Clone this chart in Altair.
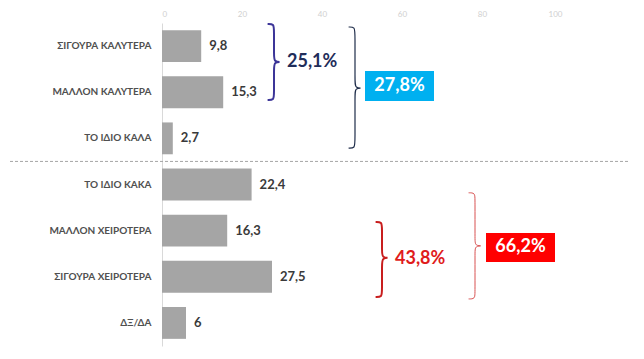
import altair as alt
import pandas as pd

categories = ["ΣΙΓΟΥΡΑ ΚΑΛΥΤΕΡΑ", "ΜΑΛΛΟΝ ΚΑΛΥΤΕΡΑ", "ΤΟ ΙΔΙΟ ΚΑΛΑ", "ΤΟ ΙΔΙΟ ΚΑΚΑ",
              "ΜΑΛΛΟΝ ΧΕΙΡΟΤΕΡΑ", "ΣΙΓΟΥΡΑ ΧΕΙΡΟΤΕΡΑ", "ΔΞ/ΔΑ"]
values = [9.8, 15.3, 2.7, 22.4, 16.3, 27.5, 6]
value_labels = ["9,8", "15,3", "2,7", "22,4", "16,3", "27,5", "6"]
x_ticks = [0, 20, 40, 60, 80, 100]

group_labels = ["25,1%", "43,8%"]
group_x = [31.25, 58.25]
group_y = [0.845, 5.115]
group_colors = ["#1F2D5A", "#E01B1B"]

box_labels = ["27,8%", "66,2%"]
box_x1 = [50.75, 81.0]
box_x2 = [68.0, 98.25]
box_y1 = [1.04, 4.55]
box_y2 = [1.69, 5.18]
box_colors = ["#00B0F0", "#FF0000"]

brace_x = [28.0, 48.25, 55.0, 78.25]
brace_top = [0.02, 0.087, 4.31, 3.68]
brace_bottom = [1.67, 2.71, 5.94, 5.98]
brace_tip = [0.845, 1.41, 5.09, 4.83]
brace_colors = ["#3C3598", "#1F2D4A", "#C81E1E", "#D85050"]
brace_widths = [2.0, 1.2, 2.0, 1.0]

separator_y = 3.0

FONT = "Lato"

df = pd.DataFrame({"category": categories, "value": values, "label": value_labels})

# brace outline points (decoration)
rows = []
for b in range(len(brace_x)):
    x0, t, bt, m = brace_x[b], brace_top[b], brace_bottom[b], brace_tip[b]
    w, r = 1.6, 0.14
    pts = [(x0 - w, t), (x0, t), (x0, t + r), (x0, m - r), (x0, m), (x0 + w * 1.3, m),
           (x0, m), (x0, m + r), (x0, bt - r), (x0, bt), (x0 - w, bt)]
    for i, (px, py) in enumerate(pts):
        rows.append({"brace": b, "i": i, "x": px, "y": py,
                     "color": brace_colors[b], "sw": brace_widths[b]})
brace_df = pd.DataFrame(rows)

group_df = pd.DataFrame({"x": group_x, "y": group_y, "text": group_labels, "color": group_colors})
box_df = pd.DataFrame({"x": box_x1, "x2": box_x2, "y": box_y1, "y2": box_y2,
                       "xc": [(a + b) / 2 for a, b in zip(box_x1, box_x2)],
                       "yc": [(a + b) / 2 for a, b in zip(box_y1, box_y2)],
                       "text": box_labels, "color": box_colors})
sep_df = pd.DataFrame({"y": [separator_y]})

xscale = alt.Scale(domain=[0, 100], nice=False)


def xenc(field):
    return alt.X(field, type="quantitative", scale=xscale, title=None)


yband = alt.Scale(paddingInner=0.31, paddingOuter=0.155)
yq = alt.Y("y:Q", scale=alt.Scale(domain=[0, 7], reverse=True, nice=False, zero=False), axis=None)

bars = alt.Chart(df).mark_bar(color="#A5A5A5").encode(
    x=alt.X("value:Q", scale=xscale, title=None,
            axis=alt.Axis(orient="top", values=x_ticks, labelColor="#D0D0D0", labelFontSize=8,
                          domain=False, ticks=False, grid=False, labelPadding=5, labelFont=FONT)),
    y=alt.Y("category:N", sort=categories, scale=yband, title=None,
            axis=alt.Axis(ticks=False, domainColor="#D9D9D9", labelFontWeight="bold",
                          labelColor="#505050", labelFont=FONT, labelFontSize=10, labelPadding=11)),
)

bar_text = alt.Chart(df).mark_text(align="left", dx=8, fontWeight="bold", fontSize=13,
                                   color="#3A3A3A", font=FONT).encode(
    x=xenc("value"),
    y=alt.Y("category:N", sort=categories, scale=yband, axis=None),
    text="label:N",
)

sep = alt.Chart(sep_df).mark_rule(color="#A6A6A6", strokeDash=[3, 2], strokeWidth=1).encode(
    x=alt.value(-152), x2=alt.value(466), y=yq,
)

braces = alt.Chart(brace_df).mark_line(interpolate="basis").encode(
    x=xenc("x"), y=yq, detail="brace:N", order="i:Q",
    color=alt.Color("color:N", scale=None),
    strokeWidth=alt.StrokeWidth("sw:Q", scale=None),
)

boxes = alt.Chart(box_df).mark_rect().encode(
    x=xenc("x"), x2="x2", y=yq, y2="y2",
    color=alt.Color("color:N", scale=None),
)

box_text = alt.Chart(box_df).mark_text(color="white", fontWeight="bold", fontSize=18,
                                       font=FONT).encode(
    x=xenc("xc"), y=alt.Y("yc:Q", scale=alt.Scale(domain=[0, 7], reverse=True, nice=False, zero=False), axis=None),
    text="text:N",
)

group_text = alt.Chart(group_df).mark_text(align="left", fontWeight="bold", fontSize=18,
                                           font=FONT).encode(
    x=xenc("x"), y=yq, text="text:N",
    color=alt.Color("color:N", scale=None),
)

chart = alt.layer(bars, bar_text, sep, braces, boxes, box_text, group_text).resolve_scale(
    y="independent"
).properties(
    width=400, height=323,
    autosize=alt.AutoSizeParams(type="none"),
    padding={"left": 154, "top": 15, "right": 74, "bottom": 5},
).configure(font=FONT).configure_view(stroke=None)

chart.save("out.html", embed_options={"renderer": "svg", "actions": False})
